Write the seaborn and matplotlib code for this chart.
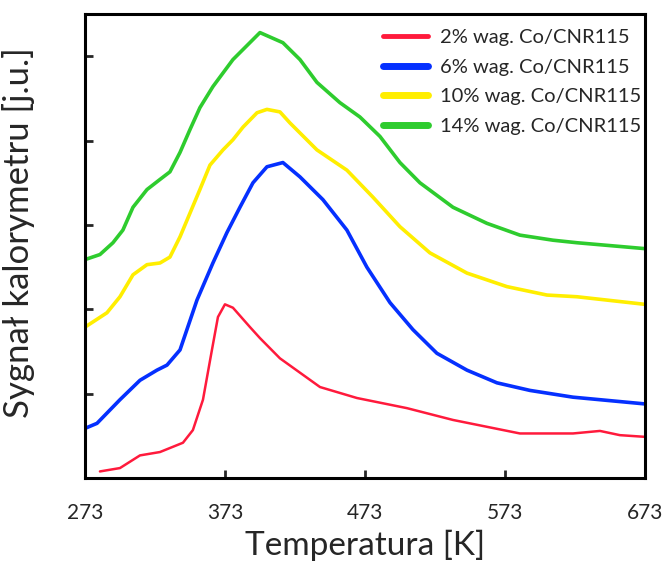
import numpy as np
import pandas as pd
import matplotlib
matplotlib.use("Agg")
import matplotlib.pyplot as plt
import seaborn as sns

# values (temperature in K, signal in arbitrary units)
t_2 = [283.7, 298, 312.3, 326.6, 343, 350.1, 357.3, 363.7, 368, 373, 378.7, 390.9, 398,
       412.3, 440.9, 467.3, 503, 535.9, 583.7, 621.6, 640.9, 655.1, 673]
s_2 = [0.08, 0.12, 0.27, 0.31, 0.42, 0.57, 0.93, 1.52, 1.91, 2.06, 2.02, 1.79, 1.66,
       1.42, 1.08, 0.95, 0.83, 0.69, 0.53, 0.53, 0.56, 0.51, 0.49]

t_6 = [273, 281.6, 298, 312.3, 324.4, 331.6, 340.9, 353, 364.4, 374.4, 383.7, 393, 403,
       414.4, 426.6, 443, 460.1, 474.4, 490.9, 507.3, 524.4, 545.9, 567.3, 590.9, 621.6, 673]
s_6 = [0.59, 0.65, 0.93, 1.16, 1.28, 1.34, 1.52, 2.11, 2.55, 2.91, 3.21, 3.50, 3.69,
       3.74, 3.57, 3.30, 2.94, 2.50, 2.08, 1.76, 1.48, 1.28, 1.13, 1.04, 0.96, 0.88]

t_10 = [273, 288.7, 298, 307.3, 317.3, 326.6, 333.7, 340.9, 348, 355.1, 362.3, 371.6, 378.7,
        385.9, 395.9, 403, 412.3, 419.4, 438.7, 460.1, 478.7, 498, 519.4, 545.9, 574.4,
        603, 624.4, 673]
s_10 = [1.79, 1.96, 2.15, 2.41, 2.53, 2.55, 2.62, 2.86, 3.14, 3.42, 3.71, 3.89, 4.01,
        4.16, 4.33, 4.37, 4.34, 4.21, 3.89, 3.65, 3.33, 2.98, 2.67, 2.43, 2.27,
        2.17, 2.15, 2.06]

t_14 = [273, 283.7, 293, 300.1, 307.3, 317.3, 326.6, 333.7, 340.9, 348, 355.1, 364.4, 378.7,
        398, 414.4, 426.6, 438.7, 455.1, 469.4, 483.7, 498, 512.3, 535.9, 560.1, 583.7,
        607.3, 624.4, 673]
s_14 = [2.59, 2.65, 2.79, 2.94, 3.21, 3.42, 3.54, 3.63, 3.86, 4.13, 4.39, 4.64, 4.96,
        5.28, 5.16, 4.96, 4.69, 4.45, 4.28, 4.05, 3.74, 3.50, 3.21, 3.02, 2.88,
        2.82, 2.79, 2.72]

labels = ["2% wag. Co/CNR115", "6% wag. Co/CNR115", "10% wag. Co/CNR115", "14% wag. Co/CNR115"]
colors = ["#ff1a3c", "#0530ff", "#ffee00", "#2ecc2e"]
x_ticks = [273, 373, 473, 573, 673]

series = [(t_2, s_2), (t_6, s_6), (t_10, s_10), (t_14, s_14)]

sns.set_style("ticks")
plt.rcParams['font.family'] = ['Lato', 'DejaVu Sans']

fig = plt.figure(figsize=(6.69, 5.72), dpi=100)
ax = fig.add_axes([0.127, 0.164, 0.837, 0.8115])

widths = [1.8, 2.6, 2.6, 2.6]
for (t, s), lab, col, lw in zip(series, labels, colors, widths):
    df = pd.DataFrame({"T": t, "S": s})
    sns.lineplot(data=df, x="T", y="S", color=col, lw=lw, label=lab, ax=ax)

ax.set_xlim(273, 673)
ax.set_ylim(0, 5.5)
ax.set_xticks(x_ticks)
ax.set_xticklabels([str(v) for v in x_ticks])
ax.set_yticks([1, 2, 3, 4, 5])
ax.set_yticklabels([])
ax.tick_params(axis="both", direction="in", length=6, width=2, labelsize=15)
ax.tick_params(axis="x", pad=18)
for sp in ax.spines.values():
    sp.set_linewidth(2.2)
    sp.set_color("black")

ax.set_xlabel("Temperatura [K]", fontsize=24, labelpad=5)
ax.set_ylabel("Sygnał kalorymetru [j.u.]", fontsize=25)
ax.yaxis.set_label_coords(-0.09, 0.53)

leg = ax.legend(loc="upper right", bbox_to_anchor=(1.02, 1.0), frameon=False,
                fontsize=14.5, handlelength=2.2, handletextpad=0.6,
                labelspacing=0.62, borderaxespad=0.35)
for h, lw in zip(leg.get_lines(), [3.5, 5, 5, 5]):
    h.set_linewidth(lw)

fig.savefig("out.png", dpi=100)
